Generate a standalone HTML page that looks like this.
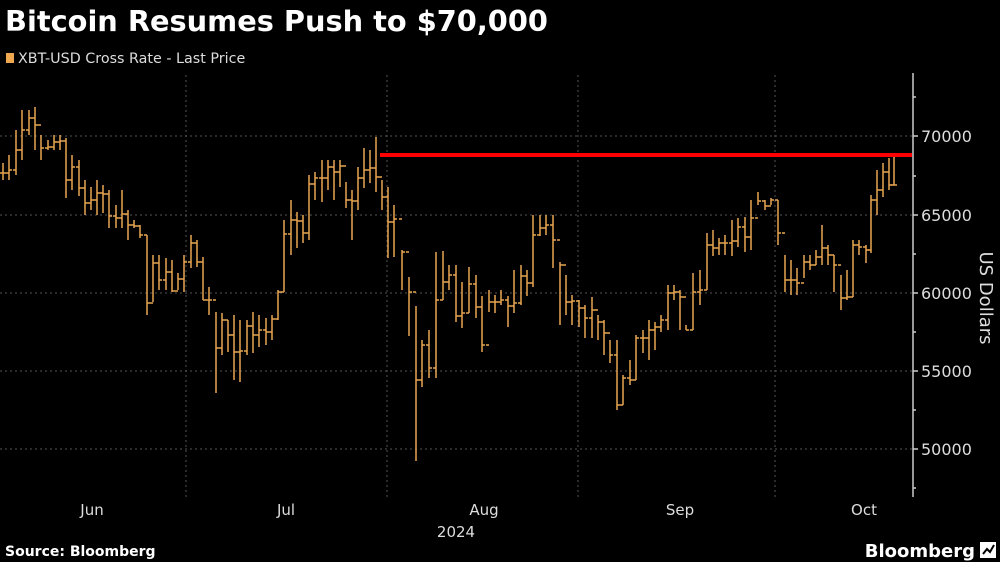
<!DOCTYPE html>
<html><head><meta charset="utf-8"><style>
body{margin:0;background:#000;width:1000px;height:562px;overflow:hidden;font-family:"DejaVu Sans",sans-serif;}
</style></head><body>
<svg id="s" width="1000" height="562" xmlns="http://www.w3.org/2000/svg" style="position:absolute;left:0;top:0" font-family="DejaVu Sans, sans-serif">
<text x="5" y="31" fill="#fff" font-size="28.8" font-weight="bold">Bitcoin Resumes Push to $70,000</text>
<rect x="6" y="53" width="8" height="10" fill="#f0a850"/>
<text x="18" y="63" fill="#ddd" font-size="14.3">XBT-USD Cross Rate - Last Price</text>
<g stroke="#555" stroke-dasharray="2,3" stroke-width="1">
<line x1="0" x2="912" y1="136" y2="136"/><line x1="0" x2="912" y1="215" y2="215"/>
<line x1="0" x2="912" y1="293" y2="293"/><line x1="0" x2="912" y1="371" y2="371"/>
<line x1="0" x2="912" y1="449" y2="449"/>
<line x1="186" x2="186" y1="75" y2="497"/><line x1="387" x2="387" y1="75" y2="497"/>
<line x1="578" x2="578" y1="75" y2="497"/><line x1="775" x2="775" y1="75" y2="497"/>
</g>
<line x1="913" x2="913" y1="73" y2="497" stroke="#ccc" stroke-width="1.5"/>
<g stroke="#ccc" stroke-width="1.5">
<line x1="913" x2="918" y1="136" y2="136"/><line x1="913" x2="918" y1="215" y2="215"/><line x1="913" x2="918" y1="293" y2="293"/><line x1="913" x2="918" y1="371" y2="371"/><line x1="913" x2="918" y1="449" y2="449"/>
<line x1="913" x2="916" y1="97" y2="97"/><line x1="913" x2="916" y1="176" y2="176"/><line x1="913" x2="916" y1="254" y2="254"/><line x1="913" x2="916" y1="332" y2="332"/><line x1="913" x2="916" y1="410" y2="410"/><line x1="913" x2="916" y1="488" y2="488"/>
</g>
<g fill="#ddd" font-size="16">
<text x="921" y="142">70000</text><text x="921" y="221">65000</text><text x="921" y="299">60000</text><text x="921" y="377">55000</text><text x="921" y="455">50000</text>
</g>
<text transform="translate(980,298) rotate(90)" fill="#ddd" font-size="18" text-anchor="middle">US Dollars</text>
<g fill="#ddd" font-size="15" text-anchor="middle">
<text x="92" y="515">Jun</text><text x="286" y="515">Jul</text><text x="484" y="515">Aug</text><text x="680" y="515">Sep</text><text x="864" y="515">Oct</text><text x="456" y="537">2024</text>
</g>
<g id="bars" stroke="#e8a550" stroke-width="1.5" fill="none"></g>
<line x1="380" x2="912" y1="155" y2="155" stroke="#f00" stroke-width="4"/>
<text x="5" y="556" fill="#fff" font-size="14" font-weight="bold">Source: Bloomberg</text>
<text x="975" y="557" fill="#fff" font-size="18" font-weight="bold" text-anchor="end">Bloomberg</text>
<rect x="980" y="542" width="16" height="16" fill="#fff"/>
<polyline points="983,554 987,549 990,552 994,545" stroke="#000" stroke-width="2" fill="none"/>
</svg>
<script>
var d=[[3,163,180,173],[9,155,180,170],[16,130,175,150],[22,110,160,130],[29,110,135,118],[35,107,150,125],[41,135,160,148],[48,140,150,147],[54,135,150,142],[60,135,150,141],[66,138,198,180],[72,155,190,167],[79,160,196,188],[85,180,215,203],[91,187,210,200],[97,180,215,193],[103,185,213,194],[109,190,228,216],[116,205,228,218],[122,190,228,214],[128,210,240,225],[134,220,228,226],[140,225,238,235],[147,235,315,303],[153,255,302,263],[159,255,290,280],[166,258,290,272],[172,260,292,291],[178,273,290,279],[184,255,292,262],[191,235,268,243],[197,240,267,262],[203,257,300,300],[209,287,315,300],[216,312,393,348],[222,313,355,320],[228,320,352,335],[234,315,380,352],[240,320,382,351],[247,320,355,326],[253,312,353,335],[259,315,347,330],[266,318,345,332],[272,315,340,319],[278,290,320,292],[284,220,292,234],[291,200,255,220],[297,212,248,221],[303,215,243,233],[309,175,240,184],[315,172,200,178],[322,160,202,178],[328,160,190,167],[334,160,200,172],[340,160,187,166],[346,182,208,200],[352,190,240,201],[358,167,210,178],[364,148,188,170],[370,150,183,168],[376,137,192,177],[382,180,210,197],[388,187,258,222],[394,205,257,219],[402,250,290,252],[409,277,336,292],[416,306,461,380],[422,340,387,345],[429,330,378,368],[436,252,378,300],[443,251,300,282],[449,265,290,275],[456,265,322,316],[462,282,328,313],[469,267,313,284],[476,275,318,307],[482,296,352,345],[489,290,312,302],[495,295,313,302],[501,290,305,300],[508,296,327,306],[514,270,313,303],[521,265,305,276],[527,270,296,283],[533,215,287,235],[540,215,236,228],[546,215,235,225],[553,215,268,240],[560,262,325,265],[566,275,315,302],[572,295,325,301],[579,300,327,308],[585,305,338,318],[592,297,338,310],[598,315,340,322],[604,320,355,333],[610,340,363,355],[617,340,410,405],[623,375,405,378],[630,360,385,380],[636,335,380,338],[643,330,353,338],[649,320,360,330],[655,322,350,327],[661,315,332,320],[668,285,330,293],[674,285,300,292],[680,290,330,297],[686,325,330,330],[693,273,330,292],[700,270,305,290],[707,233,290,245],[713,230,256,248],[719,238,255,243],[725,235,255,243],[732,220,256,241],[738,218,247,227],[745,217,252,237],[751,200,250,218],[758,192,205,201],[765,200,210,206],[771,198,205,200],[778,200,245,233],[785,255,292,280],[791,260,295,280],[797,268,295,283],[804,255,278,262],[810,255,270,265],[816,250,265,257],[822,225,265,248],[828,245,265,255],[834,255,292,265],[841,275,310,298],[847,270,300,297],[853,240,297,245],[859,240,255,247],[866,245,263,250],[871,195,253,200],[877,170,215,190],[883,163,197,172],[889,158,190,185],[894,157,185,185]];
var g=document.getElementById('bars'),s='',prev=173;
d.forEach(function(b){var x=b[0];s+='<line x1="'+x+'" x2="'+x+'" y1="'+b[1]+'" y2="'+b[2]+'"/>';
s+='<line x1="'+(x-3)+'" x2="'+x+'" y1="'+prev+'" y2="'+prev+'"/>';
s+='<line x1="'+x+'" x2="'+(x+3)+'" y1="'+b[3]+'" y2="'+b[3]+'"/>';prev=b[3];});
g.innerHTML=s;
</script>
</body></html>
